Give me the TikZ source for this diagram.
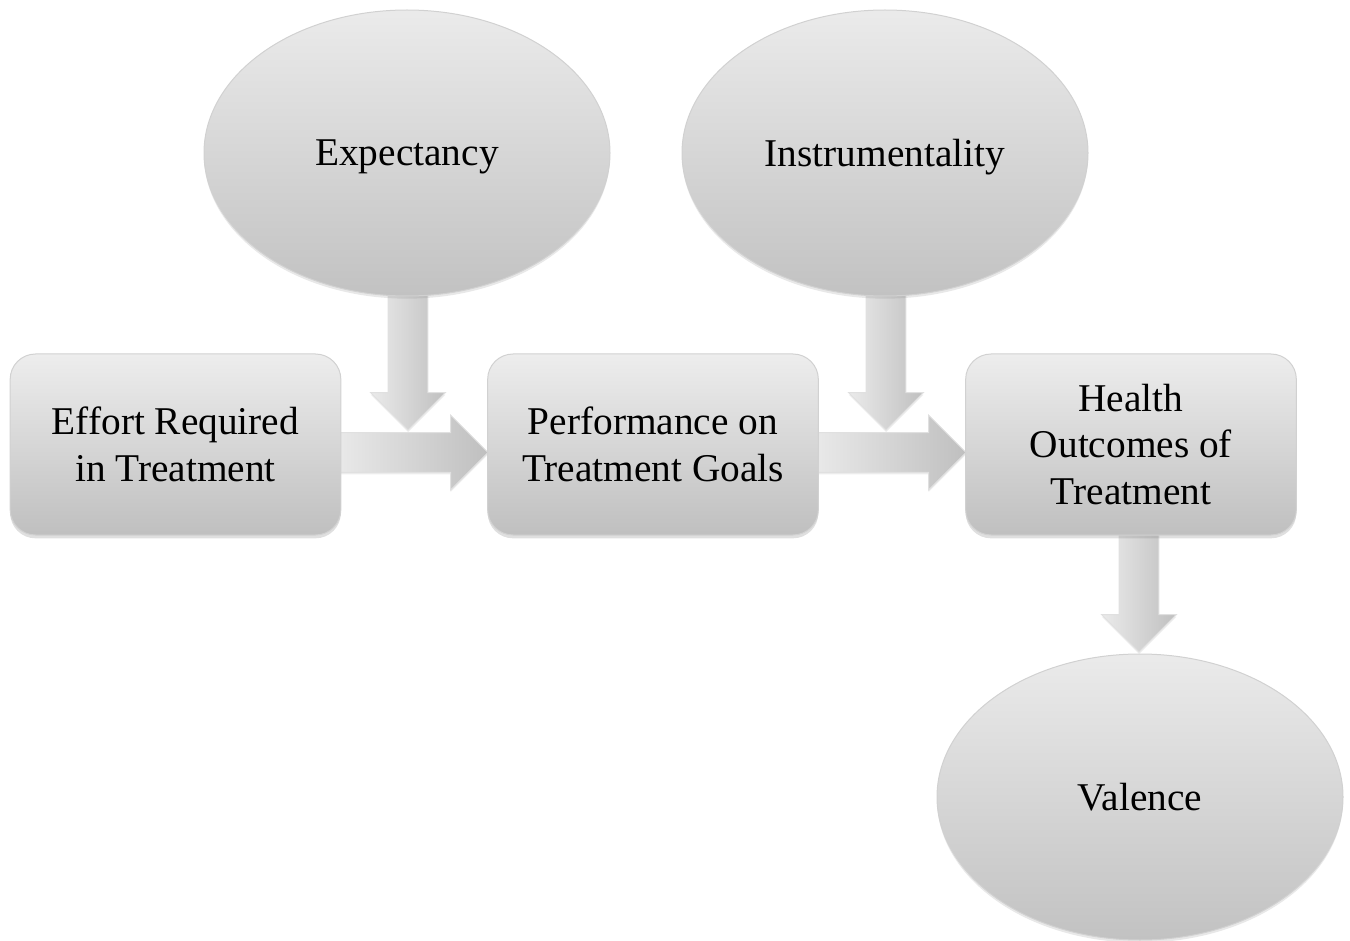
\documentclass[tikz,border=0pt]{standalone}
\usepackage{fontspec}
\setmainfont{Liberation Serif}
\usetikzlibrary{shapes.geometric,shapes.arrows,shadows}

\tikzset{every picture/.style={line width=0.75pt}}
\tikzset{
  factor/.style={ellipse, draw=black!18, top color=black!8, bottom color=black!24,
    minimum width=304.5pt, minimum height=214.5pt, inner sep=0pt, text depth=0pt,
    drop shadow={opacity=0.18, shadow xshift=0pt, shadow yshift=-2pt},
    font=\fontsize{29.5}{35}\selectfont},
  stagebox/.style={rectangle, rounded corners=19pt, draw=black!18, top color=black!7, bottom color=black!25,
    minimum width=248pt, minimum height=135.75pt, align=center, inner sep=0pt,
    drop shadow={opacity=0.25, shadow xshift=0pt, shadow yshift=-2.5pt},
    font=\fontsize{29.5}{35}\selectfont},
  flowarrow/.style={single arrow, draw=black!12, left color=black!8, right color=black!25,
    inner xsep=0pt, inner ysep=14.6pt, single arrow head extend=13.1pt, single arrow tip angle=90,
    outer sep=0pt, anchor=tip,
    drop shadow={opacity=0.15, shadow xshift=0pt, shadow yshift=-1.5pt}}
}

\begin{document}
\begin{tikzpicture}[x=0.75pt,y=0.75pt,yscale=-1,xscale=1]
	\path (0,0) rectangle (1350,941);

	% Block arrows
	\node [flowarrow, minimum height=105.75pt, rotate=-90] (a1) at (408,430) {};
	\node [flowarrow, minimum height=105.75pt, rotate=-90] (a2) at (886,430) {};
	\node [flowarrow, minimum height=92.25pt, rotate=-90] (a5) at (1139,652) {};
	\node [flowarrow, minimum height=117pt] (a3) at (488,452.5) {};
	\node [flowarrow, minimum height=117pt] (a4) at (966,452.5) {};

	% Ellipses
	\node [factor] (expect) at (407,153) {Expectancy};
	\node [factor] (instr) at (885,153) {Instrumentality};
	\node [factor] (valence) at (1140,797) {Valence};

	% Boxes
	\node [stagebox] (effort) at (175.5,444.5) {Effort Required\\in Treatment};
	\node [stagebox] (perf) at (653,444.5) {Performance on\\Treatment Goals};
	\node [stagebox] (health) at (1131,444.5) {Health\\Outcomes of\\Treatment};

\end{tikzpicture}
\end{document}
